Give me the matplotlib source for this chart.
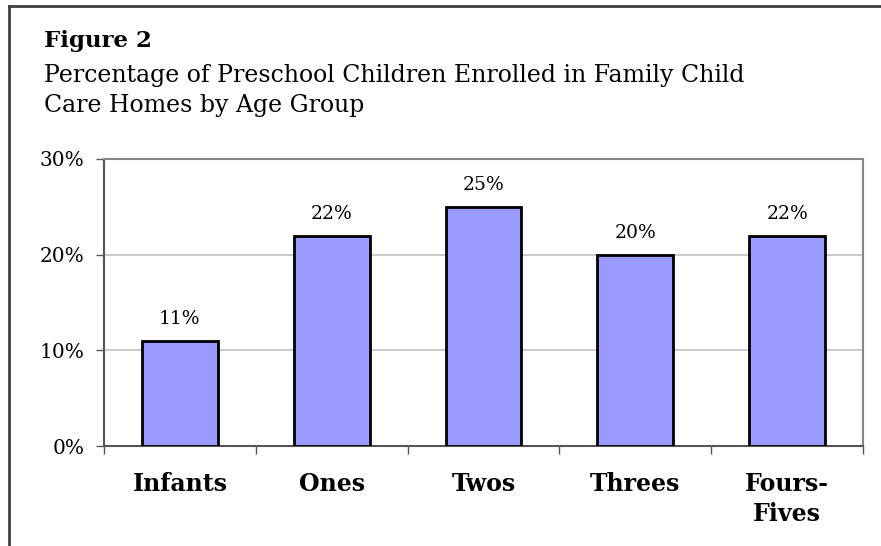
import matplotlib
matplotlib.use('Agg')
import matplotlib.pyplot as plt
from matplotlib.lines import Line2D
import numpy as np

# data
groups = ['Infants', 'Ones', 'Twos', 'Threes', 'Fours-\nFives']
percents = [11, 22, 25, 20, 22]
y_ticks = [0, 10, 20, 30]

title_bold = 'Figure 2'
title_lines = ['Percentage of Preschool Children Enrolled in Family Child',
               'Care Homes by Age Group']

plt.rcParams['font.family'] = ['DejaVu Serif']

fig = plt.figure(figsize=(8.81, 5.46), dpi=100)
ax = fig.add_axes([104 / 881, 100 / 546, 759 / 881, 287 / 546])

x = np.arange(len(groups))
ax.bar(x, percents, width=0.5, color='#9999ff', edgecolor='black', linewidth=2, zorder=3)

for xi, v in zip(x, percents):
    ax.annotate('{}%'.format(v), (xi, v), xytext=(0, 9), textcoords='offset points',
                ha='center', va='bottom', fontsize=13.5, color='black')

ax.set_xlim(-0.5, len(groups) - 0.5)
ax.set_ylim(0, 30)
ax.set_yticks(y_ticks)
ax.set_yticklabels(['{}%'.format(t) for t in y_ticks], fontsize=14.5)
ax.set_xticks(x)
ax.set_xticklabels(groups, fontsize=17, fontweight='bold', linespacing=1.3)
ax.set_xticks(np.arange(len(groups) + 1) - 0.5, minor=True)
ax.tick_params(axis='x', which='major', length=0, pad=19)
ax.tick_params(axis='x', which='minor', length=6, width=1, color='#555555')
ax.tick_params(axis='y', length=6, width=1, color='#555555', pad=8)

ax.yaxis.grid(True, color='#c0c0c0', linewidth=1.2, zorder=0)
ax.set_axisbelow(True)
for side in ['left', 'bottom']:
    ax.spines[side].set_color('#555555')
    ax.spines[side].set_linewidth(1.5)
for side in ['top', 'right']:
    ax.spines[side].set_color('#888888')
    ax.spines[side].set_linewidth(1.5)

fig.text(44 / 881, 1 - 47 / 546, title_bold, fontsize=16.5, fontweight='bold', ha='left', va='baseline')
fig.text(44 / 881, 1 - 82 / 546, title_lines[0], fontsize=17, ha='left', va='baseline')
fig.text(44 / 881, 1 - 112 / 546, title_lines[1], fontsize=17, ha='left', va='baseline')

# outer border on top and left
fig.add_artist(Line2D([9 / 881, 1], [1 - 6 / 546, 1 - 6 / 546], transform=fig.transFigure,
                      color='#404040', linewidth=2))
fig.add_artist(Line2D([9 / 881, 9 / 881], [0, 1 - 6 / 546], transform=fig.transFigure,
                      color='#404040', linewidth=2))

fig.savefig('out.png', dpi=100)
